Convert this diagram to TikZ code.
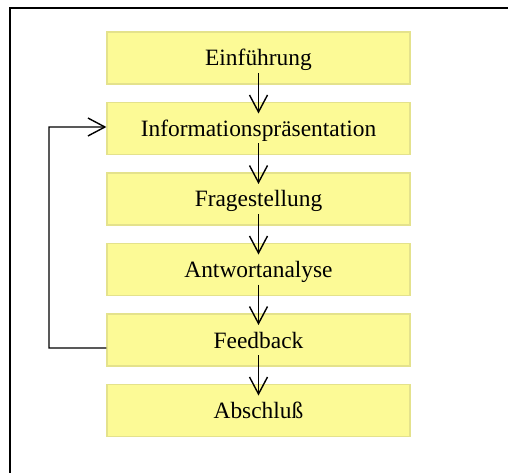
\documentclass[tikz,border=0pt]{standalone}
\usepackage{fontspec}
\setmainfont{Liberation Serif}
\usetikzlibrary{arrows.meta}
\definecolor{boxfill}{RGB}{252,250,150}
\definecolor{boxline}{RGB}{228,226,140}
\begin{document}
\begin{tikzpicture}[x=1bp,y=-1bp,
  phase/.style={draw=boxline, line width=1.2bp, fill=boxfill,
    minimum width=303bp, minimum height=52bp, inner sep=0pt,
    text height=18bp, text depth=2bp,
    font=\fontsize{23.5}{27}\selectfont},
  flow/.style={line width=1.4bp, -{Straight Barb[length=17bp,width=18bp]}},
  frame/.style={line width=2bp}]
\useasboundingbox (0,0) rectangle (508,473);
% outer frame (top and left edges)
\draw[frame] (10,473) -- (10,8.5) -- (508,8.5);
% lesson phases
\node[phase] (p1) at (258.5,58)    {Einführung};
\node[phase] (p2) at (258.5,128.5) {Informationspräsentation};
\node[phase] (p3) at (258.5,199)   {Fragestellung};
\node[phase] (p4) at (258.5,269.5) {Antwortanalyse};
\node[phase] (p5) at (258.5,340)   {Feedback};
\node[phase] (p6) at (258.5,410.5) {Abschluß};
% sequence arrows
\foreach \a/\b in {p1/p2,p2/p3,p3/p4,p4/p5,p5/p6}
  \draw[flow] ([yshift=-15bp]\a.center) -- ([yshift=15bp]\b.center);
% feedback loop back to the presentation phase
\coordinate (lb) at (49,348);
\coordinate (lt) at (49,127);
\draw[flow] ([yshift=-8bp]p5.west) -- (lb) -- (lt) -- ([yshift=1.5bp]p2.west);
\end{tikzpicture}
\end{document}
